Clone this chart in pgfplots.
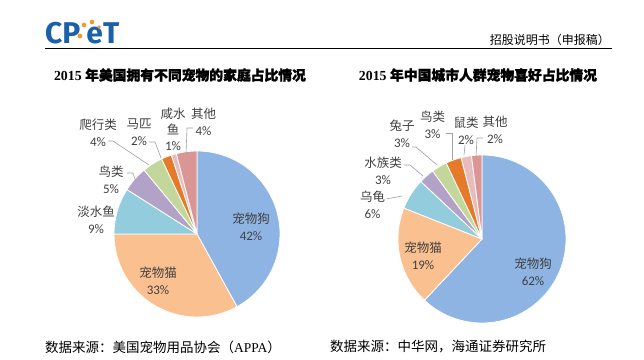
\documentclass[border=0pt]{standalone}
\usepackage{pgfplots}
\pgfplotsset{compat=1.18}
\usepackage{fontspec}
\setmainfont{Liberation Serif}
\newfontfamily\cjk{Noto Sans CJK SC}
\newfontfamily\cjkb[FakeBold=1.6]{Noto Sans CJK SC}
\newfontfamily\num{Carlito}
\newfontfamily\logofont{Fira Sans}
\definecolor{cdog}{RGB}{142,180,227}
\definecolor{ccat}{RGB}{250,192,144}
\definecolor{caqua}{RGB}{147,205,221}
\definecolor{cpurple}{RGB}{179,162,199}
\definecolor{cgreen}{RGB}{195,214,155}
\definecolor{corange}{RGB}{228,122,42}
\definecolor{cpink}{RGB}{232,188,188}
\definecolor{crose}{RGB}{217,150,148}
\definecolor{labgray}{RGB}{64,64,64}
\definecolor{leader}{RGB}{160,160,160}
\definecolor{logoblue}{RGB}{28,96,170}
\definecolor{logoorange}{RGB}{245,150,40}
\tikzset{plbl/.style={text=labgray, font=\fontsize{12.5}{17}\selectfont, align=center, inner sep=0pt}}

% draw a pie: centre x, centre y, radius (pt), list value/colour (clockwise from top)
\newcommand\drawpie[4]{%
  \gdef\piecum{90}%
  \foreach \v/\c in {#4}{%
    \pgfmathsetmacro\pa{\piecum}%
    \pgfmathsetmacro\pb{\piecum-3.6*\v}%
    \xdef\piecum{\pb}%
    \edef\temp{\noexpand\fill[\c, draw=white, line width=0.8pt, line join=round] (axis cs:#1,#2) -- ++(\pa:#3pt) arc[start angle=\pa, end angle=\pb, radius=#3pt] -- cycle;}%
    \temp
  }%
}
\newcommand\lbl[2]{{\cjk #1}\\{\num\fontsize{13}{17}\selectfont #2}}

\begin{document}
\begin{tikzpicture}
\begin{axis}[x=1pt, y=1pt, xmin=0, xmax=644, ymin=0, ymax=359,
  hide axis, clip=false]
\path (axis cs:0,0) rectangle (axis cs:644,359);

% header
\node[anchor=west, inner sep=0pt, font=\logofont\bfseries\fontsize{30}{30}\selectfont, text=logoblue] at (axis cs:45,326)
  {CP\hspace{6pt}eT};
\fill[logoorange] (axis cs:80,323) circle[radius=2.4pt];
\fill[logoorange] (axis cs:84,334) circle[radius=2.3pt];
\fill[logoorange] (axis cs:92,337) circle[radius=2.3pt];
\fill[logoorange] (axis cs:99,332) circle[radius=1.8pt];
\draw[black, line width=0.9pt] (axis cs:45,311) -- (axis cs:612,311);
\node[anchor=east, inner sep=0pt, text=black, font=\cjk\fontsize{12}{14}\selectfont] at (axis cs:610,319) {招股说明书（申报稿）};

% titles
\node[text=black, font=\fontsize{13.8}{15}\selectfont\bfseries] at (axis cs:180,284)
  {2015 {\cjkb 年美国拥有不同宠物的家庭占比情况}};
\node[text=black, font=\fontsize{13.8}{15}\selectfont\bfseries] at (axis cs:478,284)
  {2015 {\cjkb 年中国城市人群宠物喜好占比情况}};

% left pie: dog, cat, freshwater fish, birds, reptiles, horses, saltwater fish, other
\drawpie{197}{125}{83}{42/cdog, 33/ccat, 9/caqua, 5/cpurple, 4/cgreen, 2/corange, 1/cpink, 4/crose}
% right pie: dog, cat, turtles, aquarium, rabbits, birds, rodents, other
\drawpie{482}{120}{84}{62/cdog, 19/ccat, 6/caqua, 3/cpurple, 3/cgreen, 3/corange, 2/cpink, 2/crose}

% left leaders
\draw[leader, line width=0.6pt] (axis cs:127,186) -- (axis cs:133,186) -- (axis cs:136,177);
\draw[leader, line width=0.6pt] (axis cs:108,218) -- (axis cs:113,218) -- (axis cs:149,194);
\draw[leader, line width=0.6pt] (axis cs:149,217) -- (axis cs:155,217) -- (axis cs:161,201);
\draw[leader, line width=0.6pt] (axis cs:193,231) -- (axis cs:187,231) -- (axis cs:186,205);
% right leaders
\draw[leader, line width=0.6pt] (axis cs:386,160) -- (axis cs:402,163);
\draw[leader, line width=0.6pt] (axis cs:404,194) -- (axis cs:410,194) -- (axis cs:423,183);
\draw[leader, line width=0.6pt] (axis cs:412,212) -- (axis cs:416,212) -- (axis cs:437,194);
\draw[leader, line width=0.6pt] (axis cs:446,226) -- (axis cs:452,226) -- (axis cs:452,199);
\draw[leader, line width=0.6pt] (axis cs:465,214) -- (axis cs:464,204);
\draw[leader, line width=0.6pt] (axis cs:483,221) -- (axis cs:477,221) -- (axis cs:476,203);

% left labels
\node[plbl] at (axis cs:251,132.5) {\lbl{宠物狗}{42\%}};
\node[plbl] at (axis cs:158,78) {\lbl{宠物猫}{33\%}};
\node[plbl] at (axis cs:96,139.5) {\lbl{淡水鱼}{9\%}};
\node[plbl] at (axis cs:111,179.5) {\lbl{鸟类}{5\%}};
\node[plbl] at (axis cs:98,226.5) {\lbl{爬行类}{4\%}};
\node[plbl] at (axis cs:139,226.5) {\lbl{马匹}{2\%}};
\node[plbl, font=\fontsize{12.5}{16}\selectfont] at (axis cs:173,230) {{\cjk 咸水}\\{\cjk 鱼}\\{\num\fontsize{13}{16}\selectfont 1\%}};
\node[plbl] at (axis cs:203.5,237.5) {\lbl{其他}{4\%}};

% right labels
\node[plbl] at (axis cs:533,87.5) {\lbl{宠物狗}{62\%}};
\node[plbl] at (axis cs:423,103.5) {\lbl{宠物猫}{19\%}};
\node[plbl] at (axis cs:372.5,154) {\lbl{乌龟}{6\%}};
\node[plbl] at (axis cs:383,188) {\lbl{水族类}{3\%}};
\node[plbl] at (axis cs:402,225) {\lbl{兔子}{3\%}};
\node[plbl] at (axis cs:432.5,234) {\lbl{鸟类}{3\%}};
\node[plbl] at (axis cs:466,228.5) {\lbl{鼠类}{2\%}};
\node[plbl] at (axis cs:495,229.5) {\lbl{其他}{2\%}};

% sources
\node[anchor=west, inner sep=0pt, text=black, font=\fontsize{13.5}{15}\selectfont] at (axis cs:45,12)
  {{\cjk 数据来源：美国宠物用品协会（}APPA{\cjk ）}};
\node[anchor=west, inner sep=0pt, text=black, font=\cjk\fontsize{13.5}{15}\selectfont] at (axis cs:330,12)
  {数据来源：中华网，海通证券研究所};
\end{axis}
\end{tikzpicture}
\end{document}
